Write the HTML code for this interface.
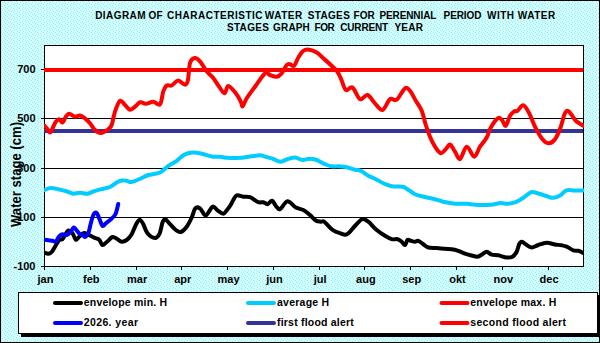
<!DOCTYPE html>
<html><head><meta charset="utf-8"><style>
html,body{margin:0;padding:0;background:#C8FAFA;}
body{width:600px;height:343px;overflow:hidden;}
svg{display:block;}
</style></head><body>
<svg width="600" height="343" viewBox="0 0 600 343">
<rect x="0" y="0" width="600" height="343" fill="url(#dots)"/>
<rect x="0.5" y="0.5" width="599" height="342" fill="none" stroke="#000" stroke-width="1"/>
<g font-family="Liberation Sans" font-weight="bold" font-size="10" fill="#000">
<text x="95.2" y="18.7" textLength="50.4" lengthAdjust="spacing">DIAGRAM</text>
<text x="148.6" y="18.7" textLength="14.0" lengthAdjust="spacing">OF</text>
<text x="166.9" y="18.7" textLength="95.7" lengthAdjust="spacing">CHARACTERISTIC</text>
<text x="264.7" y="18.7" textLength="37.6" lengthAdjust="spacing">WATER</text>
<text x="307.7" y="18.7" textLength="42.1" lengthAdjust="spacing">STAGES</text>
<text x="353.6" y="18.7" textLength="21.2" lengthAdjust="spacing">FOR</text>
<text x="379.4" y="18.7" textLength="57.0" lengthAdjust="spacing">PERENNIAL</text>
<text x="443.6" y="18.7" textLength="37.8" lengthAdjust="spacing">PERIOD</text>
<text x="486.9" y="18.7" textLength="27.2" lengthAdjust="spacing">WITH</text>
<text x="517.7" y="18.7" textLength="37.6" lengthAdjust="spacing">WATER</text>
<text x="226.9" y="30.8" textLength="42.0" lengthAdjust="spacing">STAGES</text>
<text x="273.1" y="30.8" textLength="36.7" lengthAdjust="spacing">GRAPH</text>
<text x="314.4" y="30.8" textLength="20.4" lengthAdjust="spacing">FOR</text>
<text x="340.2" y="30.8" textLength="47.9" lengthAdjust="spacing">CURRENT</text>
<text x="394.4" y="30.8" textLength="28.7" lengthAdjust="spacing">YEAR</text>
</g>
<rect x="44.5" y="45.5" width="539" height="221" fill="#fff" stroke="#000" stroke-width="1"/>
<line x1="44" y1="69.5" x2="583" y2="69.5" stroke="#000" stroke-width="1"/>
<line x1="44" y1="118.5" x2="583" y2="118.5" stroke="#000" stroke-width="1"/>
<line x1="44" y1="168.5" x2="583" y2="168.5" stroke="#000" stroke-width="1"/>
<line x1="44" y1="217.5" x2="583" y2="217.5" stroke="#000" stroke-width="1"/>
<line x1="41" y1="69.5" x2="44" y2="69.5" stroke="#000" stroke-width="1"/>
<line x1="41" y1="118.5" x2="44" y2="118.5" stroke="#000" stroke-width="1"/>
<line x1="41" y1="168.5" x2="44" y2="168.5" stroke="#000" stroke-width="1"/>
<line x1="41" y1="217.5" x2="44" y2="217.5" stroke="#000" stroke-width="1"/>
<line x1="41" y1="266.5" x2="44" y2="266.5" stroke="#000" stroke-width="1"/>
<line x1="44.5" y1="266" x2="44.5" y2="270" stroke="#000" stroke-width="1"/>
<line x1="90.5" y1="266" x2="90.5" y2="270" stroke="#000" stroke-width="1"/>
<line x1="136.5" y1="266" x2="136.5" y2="270" stroke="#000" stroke-width="1"/>
<line x1="181.5" y1="266" x2="181.5" y2="270" stroke="#000" stroke-width="1"/>
<line x1="227.5" y1="266" x2="227.5" y2="270" stroke="#000" stroke-width="1"/>
<line x1="273.5" y1="266" x2="273.5" y2="270" stroke="#000" stroke-width="1"/>
<line x1="319.5" y1="266" x2="319.5" y2="270" stroke="#000" stroke-width="1"/>
<line x1="364.5" y1="266" x2="364.5" y2="270" stroke="#000" stroke-width="1"/>
<line x1="410.5" y1="266" x2="410.5" y2="270" stroke="#000" stroke-width="1"/>
<line x1="456.5" y1="266" x2="456.5" y2="270" stroke="#000" stroke-width="1"/>
<line x1="502.5" y1="266" x2="502.5" y2="270" stroke="#000" stroke-width="1"/>
<line x1="548.5" y1="266" x2="548.5" y2="270" stroke="#000" stroke-width="1"/>
<g font-family="Liberation Sans" font-weight="bold" font-size="11" fill="#000">
<text x="35.5" y="72.7" text-anchor="end">700</text>
<text x="35.5" y="121.7" text-anchor="end">500</text>
<text x="35.5" y="171.7" text-anchor="end">300</text>
<text x="35.5" y="220.7" text-anchor="end">100</text>
<text x="35.5" y="269.7" text-anchor="end">-100</text>
<text x="45.5" y="283" text-anchor="middle">jan</text>
<text x="91.3" y="283" text-anchor="middle">feb</text>
<text x="137.1" y="283" text-anchor="middle">mar</text>
<text x="182.8" y="283" text-anchor="middle">apr</text>
<text x="228.6" y="283" text-anchor="middle">may</text>
<text x="274.4" y="283" text-anchor="middle">jun</text>
<text x="320.2" y="283" text-anchor="middle">jul</text>
<text x="365.9" y="283" text-anchor="middle">aug</text>
<text x="411.7" y="283" text-anchor="middle">sep</text>
<text x="457.5" y="283" text-anchor="middle">okt</text>
<text x="503.3" y="283" text-anchor="middle">nov</text>
<text x="549.1" y="283" text-anchor="middle">dec</text>
</g>
<text transform="translate(21,174.5) rotate(-90)" font-family="Liberation Sans" font-weight="bold" font-size="14" text-anchor="middle" textLength="105" lengthAdjust="spacingAndGlyphs">Water stage (cm)</text>
<defs><clipPath id="pc"><rect x="44" y="45" width="540" height="222"/></clipPath><pattern id="dots" width="6" height="4" patternUnits="userSpaceOnUse"><rect width="6" height="4" fill="#CCFFFF"/><rect x="1" y="0" width="1" height="1" fill="#B2E0E6"/><rect x="4" y="1" width="1" height="1" fill="#B2E0E6"/><rect x="2" y="2" width="1" height="1" fill="#B2E0E6"/><rect x="5" y="3" width="1" height="1" fill="#B2E0E6"/></pattern></defs>
<g fill="none" stroke-width="4" stroke-linejoin="round" stroke-linecap="round" clip-path="url(#pc)">
<line x1="44" y1="131" x2="583" y2="131" stroke="#333399" stroke-linecap="butt"/>
<line x1="44" y1="70" x2="583" y2="70" stroke="#FF0000" stroke-linecap="butt"/>
<path d="M44.2,190.0 C45.3,189.7 48.4,188.1 50.8,188.0 C53.1,187.9 55.6,188.6 58.3,189.2 C60.9,189.8 64.2,190.6 66.7,191.3 C69.2,192.1 71.1,193.4 73.3,193.7 C75.5,193.9 77.6,192.8 80.0,192.8 C82.4,192.8 85.0,194.0 87.5,193.7 C90.0,193.4 92.4,191.6 95.0,190.8 C97.6,190.0 100.8,189.3 103.3,188.7 C105.8,188.1 107.8,188.0 110.0,187.0 C112.2,186.0 114.8,183.6 116.7,182.5 C118.7,181.4 120.0,180.8 121.7,180.5 C123.4,180.2 125.0,180.6 126.7,180.8 C128.4,181.1 129.2,182.5 131.7,182.0 C134.2,181.5 138.9,179.2 141.7,178.0 C144.5,176.8 145.2,175.9 148.3,175.0 C151.4,174.1 156.7,174.0 160.0,172.5 C163.3,171.0 165.5,167.8 168.3,165.8 C171.1,163.9 174.0,162.7 176.7,160.8 C179.3,159.0 181.6,156.1 184.2,154.7 C186.8,153.3 189.6,152.7 192.5,152.5 C195.4,152.3 198.4,153.0 201.7,153.7 C205.0,154.4 209.4,156.2 212.5,156.7 C215.6,157.2 217.5,156.5 220.0,156.7 C222.5,156.9 224.2,157.6 227.5,157.8 C230.8,158.0 236.5,158.0 240.0,157.8 C243.5,157.6 245.0,157.1 248.3,156.7 C251.6,156.3 257.2,155.3 260.0,155.3 C262.8,155.3 262.9,156.1 265.0,156.7 C267.1,157.3 270.0,157.9 272.5,158.7 C275.0,159.5 277.5,161.6 280.0,161.7 C282.5,161.8 285.0,159.9 287.5,159.2 C290.0,158.5 292.5,157.4 295.0,157.5 C297.5,157.6 300.1,159.8 302.5,160.0 C304.9,160.2 306.8,158.8 309.2,158.8 C311.6,158.8 314.1,159.1 316.7,160.0 C319.3,160.9 322.5,163.1 325.0,164.2 C327.5,165.2 329.3,166.0 331.7,166.3 C334.1,166.7 336.7,166.2 339.2,166.3 C341.7,166.5 344.1,166.6 346.7,167.2 C349.3,167.8 352.6,169.1 355.0,169.7 C357.4,170.3 358.6,169.8 360.8,170.8 C363.0,171.8 365.8,174.4 368.3,175.8 C370.8,177.2 373.3,177.9 375.8,179.2 C378.3,180.4 380.7,182.1 383.3,183.3 C385.9,184.5 388.5,185.7 391.7,186.3 C394.9,186.9 400.0,186.3 402.5,186.7 C405.0,187.1 404.6,187.4 406.7,188.7 C408.8,189.9 411.9,192.8 415.0,194.2 C418.1,195.6 421.7,196.2 425.0,197.0 C428.3,197.8 431.9,198.4 435.0,199.2 C438.1,200.0 440.0,200.9 443.3,201.7 C446.6,202.4 451.1,203.3 455.0,203.7 C458.9,204.0 463.6,203.6 467.0,203.8 C470.4,204.0 471.5,204.6 475.4,204.8 C479.3,205.0 486.3,205.1 490.5,204.8 C494.7,204.5 497.7,203.3 500.5,203.1 C503.3,202.9 504.7,204.0 507.2,203.8 C509.7,203.6 512.9,203.1 515.6,202.1 C518.3,201.1 520.7,199.5 523.3,197.8 C525.9,196.1 528.7,192.8 531.3,192.1 C533.9,191.4 536.3,193.1 539.0,193.8 C541.7,194.5 545.0,195.7 547.4,196.4 C549.8,197.1 551.3,198.0 553.4,197.8 C555.5,197.6 557.9,196.6 560.1,195.4 C562.3,194.2 564.1,191.2 566.5,190.4 C568.9,189.6 571.4,190.4 574.2,190.4 C577.0,190.4 581.8,190.4 583.3,190.4" stroke="#00CCFF"/>
<path d="M44.2,252.5 C44.9,252.7 47.0,253.9 48.3,253.8 C49.5,253.7 50.6,253.2 51.7,252.0 C52.8,250.8 53.8,248.7 55.0,246.7 C56.2,244.7 58.0,241.2 59.2,240.0 C60.5,238.8 61.5,240.0 62.5,239.2 C63.5,238.4 64.0,236.4 65.0,235.0 C66.0,233.6 67.0,230.8 68.3,230.5 C69.5,230.2 71.2,231.8 72.5,233.3 C73.8,234.8 74.7,239.1 75.8,239.7 C76.9,240.3 77.8,237.8 79.2,236.7 C80.6,235.6 82.4,233.2 84.2,233.0 C86.0,232.8 88.2,234.7 90.0,235.5 C91.8,236.3 93.5,237.3 95.0,238.0 C96.5,238.7 98.0,238.5 99.2,239.7 C100.5,240.9 101.2,244.6 102.5,245.0 C103.8,245.4 105.0,243.3 106.7,242.0 C108.4,240.7 110.7,237.5 112.5,237.0 C114.3,236.5 116.0,238.4 117.5,239.2 C119.0,240.0 120.2,241.6 121.7,241.7 C123.2,241.8 125.0,241.2 126.7,240.0 C128.4,238.8 130.2,236.7 131.7,234.2 C133.2,231.7 134.5,227.4 135.8,225.0 C137.1,222.6 138.4,219.8 139.7,219.7 C140.9,219.6 142.0,221.9 143.3,224.2 C144.6,226.5 145.6,231.0 147.5,233.3 C149.4,235.6 153.0,238.0 155.0,238.0 C157.0,238.0 158.4,235.9 159.7,233.3 C160.9,230.7 161.6,224.8 162.5,222.5 C163.4,220.2 164.1,218.9 165.3,219.2 C166.6,219.5 168.2,222.4 170.0,224.2 C171.8,226.0 174.0,228.7 175.8,230.0 C177.6,231.3 179.0,232.6 180.8,232.0 C182.6,231.4 184.9,229.1 186.7,226.7 C188.5,224.3 190.3,220.6 191.7,217.5 C193.1,214.4 193.9,209.8 195.3,208.3 C196.7,206.8 198.2,207.1 200.0,208.3 C201.8,209.5 203.7,215.8 205.8,215.5 C207.9,215.2 210.6,207.6 212.5,206.7 C214.4,205.8 215.7,209.1 217.5,210.3 C219.3,211.5 221.7,213.8 223.3,213.7 C224.9,213.6 225.9,211.3 227.0,210.0 C228.1,208.7 228.9,207.7 230.0,206.0 C231.1,204.3 232.2,201.8 233.3,200.0 C234.4,198.2 235.0,195.9 236.7,195.3 C238.4,194.8 241.1,196.4 243.3,196.7 C245.5,197.0 247.5,196.3 250.0,197.2 C252.5,198.1 256.1,201.4 258.3,202.2 C260.5,203.0 261.8,201.9 263.3,202.2 C264.8,202.5 266.1,204.4 267.5,204.2 C268.9,204.0 270.6,200.5 272.0,200.8 C273.4,201.1 274.5,204.4 275.8,205.8 C277.1,207.2 278.1,209.9 280.0,209.2 C281.9,208.4 284.9,201.6 287.5,201.3 C290.1,201.0 293.2,206.1 295.8,207.5 C298.4,208.9 300.9,208.8 303.3,210.0 C305.7,211.2 307.9,213.2 310.0,215.0 C312.1,216.8 314.0,219.4 315.8,220.5 C317.6,221.6 319.4,221.5 320.8,221.7 C322.2,221.9 322.4,220.4 324.2,221.7 C326.0,222.9 329.6,227.5 331.7,229.2 C333.8,230.9 334.5,231.1 336.7,232.0 C338.9,232.9 342.9,234.6 345.0,234.7 C347.1,234.8 347.4,234.1 349.2,232.5 C351.0,230.9 353.6,227.2 355.8,225.0 C358.0,222.8 360.4,219.8 362.5,219.2 C364.6,218.6 365.9,219.9 368.3,221.7 C370.7,223.5 373.9,227.7 376.7,230.0 C379.5,232.3 382.5,234.3 385.0,235.8 C387.5,237.3 389.6,238.6 391.7,239.2 C393.8,239.8 395.8,238.8 397.5,239.2 C399.2,239.6 400.4,240.7 401.7,241.7 C402.9,242.7 404.0,245.3 405.0,245.0 C406.0,244.7 406.5,240.7 407.5,240.0 C408.5,239.3 409.6,240.5 410.8,240.8 C412.1,241.1 413.8,241.7 415.0,241.7 C416.2,241.7 416.9,240.4 418.3,240.8 C419.7,241.2 421.6,243.1 423.3,244.2 C425.0,245.3 426.1,246.9 428.3,247.5 C430.5,248.1 433.9,247.8 436.7,248.0 C439.5,248.2 442.5,248.6 445.0,248.8 C447.5,249.0 449.5,248.9 451.7,249.2 C453.9,249.5 456.1,250.1 458.3,250.8 C460.5,251.6 462.8,252.9 465.0,253.7 C467.2,254.5 469.6,255.0 471.7,255.5 C473.8,256.0 475.7,256.9 477.5,256.7 C479.3,256.5 481.0,255.0 482.5,254.2 C484.0,253.4 485.2,251.6 486.7,251.7 C488.2,251.8 489.8,254.1 491.7,254.7 C493.6,255.3 495.8,254.8 498.3,255.3 C500.8,255.8 504.3,257.3 506.7,257.5 C509.1,257.7 510.8,257.7 512.5,256.7 C514.2,255.7 515.6,253.8 516.7,251.7 C517.8,249.6 518.4,245.9 519.2,244.2 C520.0,242.5 520.5,241.6 521.7,241.7 C523.0,241.8 525.0,244.0 526.7,245.0 C528.4,246.0 529.8,247.5 531.7,247.5 C533.6,247.5 535.8,245.8 538.3,245.0 C540.8,244.2 543.9,242.9 546.7,242.8 C549.5,242.7 552.5,244.1 555.0,244.5 C557.5,244.9 559.8,244.9 561.7,245.3 C563.7,245.7 564.8,245.9 566.7,246.7 C568.6,247.5 571.4,249.6 573.3,250.3 C575.2,251.0 576.6,250.4 578.3,250.8 C580.0,251.2 582.5,252.6 583.3,253.0" stroke="#000000"/>
<path d="M44.2,125.5 C44.8,126.1 46.5,128.0 47.5,129.2 C48.5,130.4 49.3,132.9 50.3,132.5 C51.3,132.1 52.4,128.5 53.3,126.7 C54.2,124.9 54.8,123.0 55.8,121.7 C56.8,120.5 58.1,119.1 59.2,119.2 C60.3,119.3 61.4,122.9 62.5,122.5 C63.6,122.1 64.7,118.2 65.8,116.7 C66.9,115.2 67.7,113.7 69.2,113.7 C70.7,113.7 73.2,116.4 75.0,116.7 C76.8,117.0 78.3,115.2 80.0,115.5 C81.7,115.8 83.3,117.0 85.0,118.3 C86.7,119.6 88.5,121.5 90.0,123.3 C91.5,125.1 92.8,127.7 94.2,129.2 C95.6,130.7 96.9,131.9 98.3,132.5 C99.7,133.1 100.8,133.1 102.5,132.5 C104.2,131.9 106.8,130.4 108.3,129.2 C109.8,127.9 110.6,127.9 111.7,125.0 C112.8,122.1 113.6,115.7 115.0,111.7 C116.4,107.7 118.3,101.9 120.0,100.8 C121.7,99.7 123.3,103.5 125.0,105.0 C126.7,106.5 128.3,109.4 130.0,109.7 C131.7,110.0 133.3,108.0 135.0,106.7 C136.7,105.5 138.2,102.7 140.0,102.2 C141.8,101.7 143.6,103.9 145.8,103.8 C148.0,103.7 150.9,101.6 153.3,101.7 C155.7,101.8 158.3,106.0 160.0,104.3 C161.7,102.6 162.2,94.4 163.3,91.3 C164.4,88.2 165.3,86.5 166.7,85.5 C168.1,84.5 169.8,86.3 171.7,85.5 C173.6,84.7 175.8,80.6 178.0,80.5 C180.2,80.4 183.3,84.8 185.0,84.7 C186.7,84.6 187.2,83.3 188.0,79.7 C188.8,76.1 188.9,66.6 190.0,63.0 C191.1,59.4 193.0,58.3 194.7,58.0 C196.4,57.7 198.0,59.1 200.0,61.3 C202.0,63.5 204.5,68.5 206.7,71.3 C208.9,74.1 211.4,75.6 213.3,78.0 C215.2,80.4 216.4,83.0 218.3,85.5 C220.2,88.0 222.8,93.2 224.5,93.3 C226.2,93.4 226.4,86.0 228.3,86.0 C230.2,86.0 233.7,90.7 235.8,93.3 C237.9,95.9 239.7,99.5 240.8,101.7 C242.0,103.9 241.7,106.9 242.7,106.3 C243.7,105.7 244.6,101.6 246.7,98.3 C248.8,95.0 251.9,90.9 255.0,86.7 C258.1,82.5 262.5,75.2 265.0,73.3 C267.5,71.3 268.1,74.4 270.0,75.0 C271.9,75.6 274.8,77.0 276.7,76.7 C278.6,76.4 280.0,75.2 281.7,73.3 C283.4,71.3 285.3,66.5 286.7,65.0 C288.1,63.5 288.8,64.1 290.0,64.2 C291.2,64.3 292.8,66.9 294.2,65.8 C295.6,64.7 296.8,60.0 298.3,57.5 C299.8,55.0 301.5,52.1 303.3,50.8 C305.1,49.5 307.0,49.4 309.2,49.7 C311.4,50.0 314.3,51.1 316.7,52.5 C319.1,53.9 321.1,56.3 323.3,58.3 C325.5,60.2 327.8,62.1 330.0,64.2 C332.2,66.3 334.9,68.5 336.7,70.8 C338.5,73.1 339.3,75.1 340.8,78.3 C342.3,81.5 343.9,88.5 345.8,90.0 C347.8,91.5 350.1,86.0 352.5,87.5 C354.9,89.0 357.5,98.0 360.0,99.2 C362.5,100.5 365.0,94.3 367.5,95.0 C370.0,95.7 372.5,100.8 375.0,103.3 C377.5,105.8 380.0,110.7 382.5,110.0 C385.0,109.3 387.6,100.9 390.0,99.2 C392.4,97.5 394.2,101.5 396.7,99.7 C399.2,97.9 402.8,89.8 405.0,88.3 C407.2,86.8 408.2,88.7 410.0,90.8 C411.8,92.9 413.9,97.5 415.8,100.8 C417.8,104.1 420.0,106.8 421.7,110.8 C423.4,114.8 424.4,120.7 425.8,125.0 C427.2,129.3 428.5,133.1 430.0,136.7 C431.5,140.3 433.2,143.9 435.0,146.7 C436.8,149.5 439.0,152.9 440.8,153.3 C442.6,153.7 444.3,150.7 445.8,149.2 C447.3,147.7 448.5,144.1 450.0,144.5 C451.5,144.9 453.3,149.2 455.0,151.7 C456.7,154.1 458.1,160.0 460.0,159.2 C461.9,158.4 464.3,147.1 466.7,146.7 C469.1,146.3 472.0,156.7 474.2,156.7 C476.4,156.7 477.9,149.9 480.0,146.7 C482.1,143.5 484.9,140.7 486.7,137.5 C488.5,134.3 488.9,130.8 490.8,127.5 C492.7,124.2 496.4,119.1 498.3,118.0 C500.2,116.9 501.2,119.5 502.5,120.8 C503.8,122.1 504.6,126.6 505.8,125.8 C507.1,125.0 508.6,118.2 510.0,115.8 C511.4,113.4 513.0,112.1 514.2,111.3 C515.5,110.5 516.0,111.8 517.5,110.8 C519.0,109.8 521.3,104.9 523.3,105.3 C525.2,105.7 527.2,109.7 529.2,113.3 C531.2,116.9 532.9,122.5 535.0,126.7 C537.1,130.9 539.5,135.5 541.7,138.3 C543.9,141.1 546.1,143.2 548.3,143.3 C550.5,143.5 552.9,142.0 555.0,139.2 C557.1,136.4 559.3,130.7 560.8,126.7 C562.3,122.7 563.1,117.7 564.2,115.0 C565.3,112.3 566.2,110.8 567.5,110.8 C568.8,110.8 570.3,113.3 571.7,115.0 C573.1,116.7 573.9,119.0 575.8,120.8 C577.7,122.6 582.0,125.0 583.3,125.8" stroke="#FF0000"/>
<path d="M44.2,239.7 C44.9,239.8 46.9,240.1 48.3,240.3 C49.7,240.5 51.2,240.6 52.5,240.8 C53.8,241.0 54.7,242.4 55.8,241.7 C56.9,240.9 58.1,237.6 59.2,236.3 C60.3,235.1 61.2,234.4 62.5,234.2 C63.8,234.0 65.4,235.3 66.7,235.0 C68.0,234.7 69.1,233.8 70.3,232.5 C71.5,231.2 72.7,227.8 73.8,227.5 C74.9,227.2 76.0,229.7 77.0,230.8 C78.0,231.9 79.1,233.5 80.0,234.2 C80.9,234.8 81.7,234.2 82.5,234.7 C83.3,235.2 84.0,237.2 85.0,237.0 C86.0,236.8 87.3,235.6 88.3,233.3 C89.3,231.0 89.9,226.5 90.8,223.3 C91.7,220.1 92.7,215.9 93.7,214.2 C94.7,212.5 95.8,212.3 96.7,213.0 C97.6,213.7 98.2,216.2 99.2,218.3 C100.2,220.4 101.4,225.0 102.5,225.8 C103.6,226.6 104.5,224.3 105.8,223.3 C107.0,222.3 108.5,221.4 110.0,220.0 C111.5,218.6 113.8,216.8 115.0,215.0 C116.2,213.2 116.5,211.0 117.0,209.2 C117.5,207.4 118.0,204.9 118.2,204.0" stroke="#0000FF"/>
</g>
<rect x="21" y="295" width="579" height="42" fill="#000"/>
<rect x="18.5" y="292.5" width="579" height="41" fill="#fff" stroke="#000" stroke-width="1"/>
<rect x="0.5" y="0.5" width="599" height="342" fill="none" stroke="#000" stroke-width="1"/>
<g font-family="Liberation Sans" font-weight="bold" font-size="10.5" fill="#000">
<line x1="55" y1="303" x2="81" y2="303" stroke="#000000" stroke-width="4" stroke-linecap="round"/>
<text x="83.7" y="305.7" textLength="83.5" lengthAdjust="spacing">envelope min. H</text>
<line x1="55" y1="323" x2="81" y2="323" stroke="#0000FF" stroke-width="4" stroke-linecap="round"/>
<text x="83.7" y="326.2" textLength="54.3" lengthAdjust="spacing">2026. year</text>
<line x1="248" y1="303" x2="274" y2="303" stroke="#00CCFF" stroke-width="4" stroke-linecap="round"/>
<text x="277.0" y="305.7" textLength="52.2" lengthAdjust="spacing">average H</text>
<line x1="248" y1="323" x2="274" y2="323" stroke="#333399" stroke-width="4" stroke-linecap="round"/>
<text x="277.0" y="326.2" textLength="76.8" lengthAdjust="spacing">first flood alert</text>
<line x1="441.5" y1="303" x2="467.5" y2="303" stroke="#FF0000" stroke-width="4" stroke-linecap="round"/>
<text x="470.3" y="305.7" textLength="86.0" lengthAdjust="spacing">envelope max. H</text>
<line x1="441.5" y1="323" x2="467.5" y2="323" stroke="#FF0000" stroke-width="4" stroke-linecap="round"/>
<text x="470.3" y="326.2" textLength="95.7" lengthAdjust="spacing">second flood alert</text>
</g>
</svg>
</body></html>
